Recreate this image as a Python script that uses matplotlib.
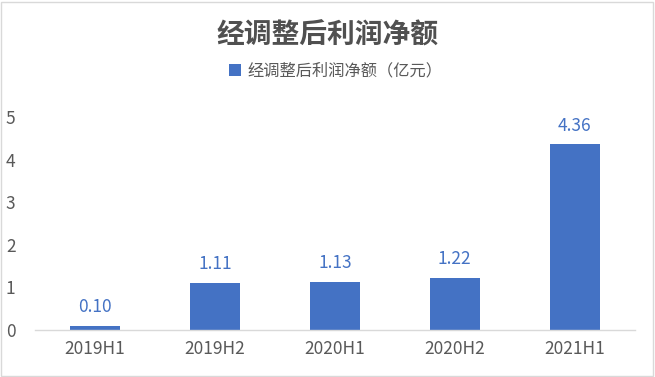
import matplotlib
matplotlib.use('Agg')
import matplotlib.pyplot as plt
from matplotlib.patches import Rectangle

plt.rcParams['font.family'] = ['Noto Sans CJK SC', 'DejaVu Sans']

# Chart data
categories = ['2019H1', '2019H2', '2020H1', '2020H2', '2021H1']
profit = [0.10, 1.11, 1.13, 1.22, 4.36]
title = '经调整后利润净额'
series_name = '经调整后利润净额（亿元）'

bar_color = '#4472C4'
text_gray = '#595959'

fig = plt.figure(figsize=(6.55, 3.77), dpi=100)
ax = fig.add_axes([0.0534, 0.1247, 0.9156, 0.565])

x = range(len(categories))
bars = ax.bar(x, profit, width=0.42, color=bar_color, label=series_name)

# data labels above bars
for xi, v in zip(x, profit):
    ax.annotate(f'{v:.2f}', (xi, v), xytext=(0, 7), textcoords='offset points',
                ha='center', va='bottom', fontsize=12.5, color=bar_color,
                fontweight='medium')

ax.set_xlim(-0.5, len(categories) - 0.5)
ax.set_ylim(0, 5)
ax.set_yticks(range(0, 6))
ax.set_xticks(list(x))
ax.set_xticklabels(categories)
ax.tick_params(axis='both', length=0, labelsize=12.5, colors=text_gray)
ax.tick_params(axis='x', pad=7)
ax.tick_params(axis='y', pad=14)
for lbl in ax.get_xticklabels() + ax.get_yticklabels():
    lbl.set_fontweight('medium')

for side in ['top', 'right', 'left']:
    ax.spines[side].set_visible(False)
ax.spines['bottom'].set_color('#D9D9D9')
ax.spines['bottom'].set_linewidth(1)

fig.text(0.5, 0.905, title, ha='center', va='center', fontsize=20,
         fontweight='bold', color='#505050')

leg = fig.legend(loc='center', bbox_to_anchor=(0.512, 0.812), frameon=False,
                 fontsize=11.7, handlelength=0.75, handleheight=0.75,
                 handletextpad=0.4)
for t in leg.get_texts():
    t.set_color(text_gray)

# outer border
fig.patches.append(Rectangle((0.002, 0.003), 0.995, 0.993, transform=fig.transFigure,
                             fill=False, edgecolor='#D9D9D9', linewidth=1))

fig.savefig('out.png', dpi=100)
